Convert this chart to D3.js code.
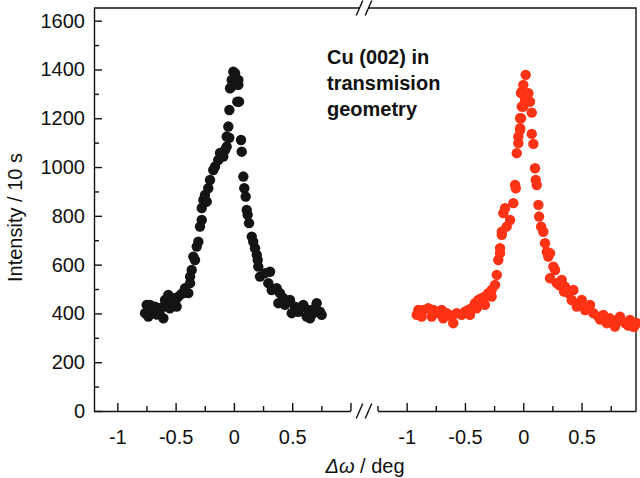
<!DOCTYPE html>
<html>
<head>
<meta charset="utf-8">
<script src="https://cdn.jsdelivr.net/npm/d3@7"></script>
<style>
  body { margin: 0; background: #fff; }
  text { font-family: "Liberation Sans", Arial, sans-serif; }
</style>
</head>
<body>
<div id="chart"></div>
<script>
// DATA
const blackX = [-0.762,-0.748,-0.734,-0.720,-0.700,-0.691,-0.677,-0.660,-0.648,-0.634,-0.640,-0.605,-0.605,-0.591,-0.580,-0.563,-0.560,-0.548,-0.530,-0.520,-0.500,-0.491,-0.477,-0.450,-0.434,-0.419,-0.391,-0.376,-0.376,-0.362,-0.348,-0.334,-0.319,-0.305,-0.291,-0.276,-0.276,-0.262,-0.248,-0.233,-0.220,-0.205,-0.177,-0.162,-0.134,-0.119,-0.091,-0.076,-0.062,-0.062,-0.048,-0.040,-0.039,-0.033,-0.019,-0.019,-0.005,0.010,0.029,0.038,0.038,0.044,0.061,0.067,0.081,0.089,0.101,0.110,0.118,0.130,0.153,0.166,0.181,0.196,0.204,0.209,0.224,0.267,0.295,0.310,0.324,0.367,0.381,0.395,0.424,0.438,0.481,0.496,0.524,0.552,0.567,0.595,0.624,0.638,0.653,0.681,0.696,0.710,0.738,0.753]
const blackY = [401,435,387,435,410,401,428,395,414,421,405,428,380,455,440,476,425,421,445,462,455,428,469,480,483,503,483,524,551,578,633,619,674,694,756,783,832,865,886,858,913,947,988,1002,1029,1058,1043,1070,1084,1125,1166,1120,1234,1323,1357,1330,1391,1385,1268,1357,1337,1268,1111,1063,961,913,879,824,804,770,715,694,667,640,619,592,551,565,524,571,496,503,442,483,462,435,455,401,428,407,421,435,387,414,380,401,421,442,407,394]

const redX = [-0.914,-0.900,-0.871,-0.857,-0.814,-0.785,-0.771,-0.729,-0.700,-0.686,-0.657,-0.620,-0.614,-0.600,-0.571,-0.528,-0.500,-0.472,-0.457,-0.443,-0.414,-0.400,-0.386,-0.357,-0.329,-0.329,-0.300,-0.271,-0.271,-0.242,-0.227,-0.214,-0.199,-0.199,-0.184,-0.184,-0.171,-0.156,-0.142,-0.113,-0.085,-0.070,-0.064,-0.056,-0.042,-0.042,-0.027,-0.027,-0.027,-0.019,-0.019,-0.013,-0.013,0.001,0.001,0.015,0.021,0.044,0.058,0.073,0.073,0.087,0.101,0.107,0.116,0.130,0.136,0.153,0.172,0.187,0.202,0.215,0.230,0.230,0.258,0.273,0.287,0.310,0.330,0.350,0.358,0.387,0.415,0.430,0.459,0.480,0.502,0.530,0.550,0.573,0.601,0.644,0.660,0.687,0.716,0.740,0.759,0.787,0.800,0.830,0.873,0.900,0.916,0.944,0.950,0.973]
const redY = [394,414,387,414,421,387,414,401,414,380,401,392,387,360,401,394,407,414,394,421,442,421,455,462,469,435,483,496,469,517,558,619,647,667,722,735,811,831,756,783,852,927,913,1057,1098,1125,1152,1159,1200,1200,1303,1309,1248,1337,1248,1275,1378,1303,1268,1223,1136,1095,995,947,926,845,797,756,735,688,653,633,647,544,592,578,524,515,537,490,510,483,455,496,428,440,455,414,420,435,401,387,375,394,360,380,373,346,365,387,360,350,373,346,345,360]

const yMajor = [0,200,400,600,800,1000,1200,1400,1600]
const yLabels = ["0","200","400","600","800","1000","1200","1400","1600"]
const yMinor = [100,300,500,700,900,1100,1300,1500]
const leftMajor = [-1,-0.5,0,0.5,1]
const leftLabels = ["-1","-0.5","0","0.5",""]
const leftMinor = [-0.75,-0.25,0.25,0.75]
const rightMajor = [-1,-0.5,0,0.5]
const rightLabels = ["-1","-0.5","0","0.5"]
const rightMinor = [-1.25,-0.75,-0.25,0.25,0.75]
const noteLines = ["Cu (002) in","transmision","geometry"]

const width = 640, height = 478
const plot = {left: 94, right: 636, top: 8, bottom: 411}

const svg = d3.select("#chart")
  .append("svg")
  .attr("width", width)
  .attr("height", height)

// SCALES
const yScale = d3.scaleLinear()
  .domain([0, 1652])
  .range([plot.bottom, plot.top])

const xLeft = d3.scaleLinear()
  .domain([-1.2, 1])
  .range([plot.left, 350.5])

const xRight = d3.scaleLinear()
  .domain([-1.25, 0.967])
  .range([377.5, plot.right])

const ink = "#111"

// Y AXIS
const yAx = svg.append("g")
  .attr("transform", `translate(${plot.left},0)`)
  .call(d3.axisLeft(yScale).tickValues(yMajor).tickSizeInner(-8).tickSizeOuter(0).tickPadding(9)
    .tickFormat((d, i) => yLabels[i]))
yAx.selectAll("text").attr("font-size", 20).attr("fill", ink)

svg.append("g")
  .attr("transform", `translate(${plot.left},0)`)
  .call(d3.axisLeft(yScale).tickValues(yMinor).tickSize(-5).tickFormat(""))
  .call(g => g.select(".domain").remove())

// X AXES (two segments)
function bottomAxis(scale, major, labels, minor) {
  const g = svg.append("g")
    .attr("transform", `translate(0,${plot.bottom})`)
    .call(d3.axisBottom(scale).tickValues(major).tickSizeInner(-8).tickSizeOuter(0).tickPadding(19)
      .tickFormat((d, i) => labels[i]))
  g.selectAll("text").attr("font-size", 20).attr("fill", ink)

  svg.append("g")
    .attr("transform", `translate(0,${plot.bottom})`)
    .call(d3.axisBottom(scale).tickValues(minor).tickSize(-5).tickFormat(""))
    .call(g => g.select(".domain").remove())
}
bottomAxis(xLeft, leftMajor, leftLabels, leftMinor)
bottomAxis(xRight, rightMajor, rightLabels, rightMinor)

svg.selectAll(".domain, .tick line").attr("stroke", ink).attr("stroke-width", 1.4)

// FRAME (top + right) and break marks
const brk = (xLeft.range()[1] + xRight.range()[0]) / 2
svg.append("path")
  .attr("d", `M${plot.left},${plot.top}H${brk - 4.5}M${brk + 4.5},${plot.top}H${plot.right}V${plot.bottom}`)
  .attr("fill", "none")
  .attr("stroke", ink)
  .attr("stroke-width", 1.4)

;[plot.top, plot.bottom].forEach(y => {
  [-4.5, 4.5].forEach(dx => {
    svg.append("line")
      .attr("x1", brk + dx - 3.3).attr("y1", y + 7.5)
      .attr("x2", brk + dx + 3.3).attr("y2", y - 7.5)
      .attr("stroke", ink)
      .attr("stroke-width", 1.4)
  })
})

// POINTS
svg.append("g")
  .selectAll("circle")
  .data(blackX)
  .join("circle")
    .attr("cx", d => xLeft(d))
    .attr("cy", (d, i) => yScale(blackY[i]))
    .attr("r", 5.2)
    .attr("fill", "#141414")

svg.append("g")
  .selectAll("circle")
  .data(redX)
  .join("circle")
    .attr("cx", d => xRight(d))
    .attr("cy", (d, i) => yScale(redY[i]))
    .attr("r", 5.2)
    .attr("fill", "#fe3214")

// LABELS
svg.append("text")
  .attr("transform", `translate(22,${(plot.top + plot.bottom) / 2 + 8}) rotate(-90)`)
  .attr("text-anchor", "middle")
  .attr("font-size", 20)
  .attr("fill", ink)
  .text("Intensity / 10 s")

const xt = svg.append("text")
  .attr("x", 365)
  .attr("y", 473)
  .attr("text-anchor", "middle")
  .attr("font-size", 20)
  .attr("fill", ink)
xt.append("tspan").attr("font-style", "italic").text("Δω")
xt.append("tspan").text(" / deg")

svg.append("text")
  .attr("x", 327)
  .attr("y", 64)
  .attr("font-size", 20)
  .attr("font-weight", "bold")
  .attr("fill", ink)
  .selectAll("tspan")
  .data(noteLines)
  .join("tspan")
    .attr("x", 327)
    .attr("dy", (d, i) => i === 0 ? 0 : 26)
    .text(d => d)
</script>
</body>
</html>
